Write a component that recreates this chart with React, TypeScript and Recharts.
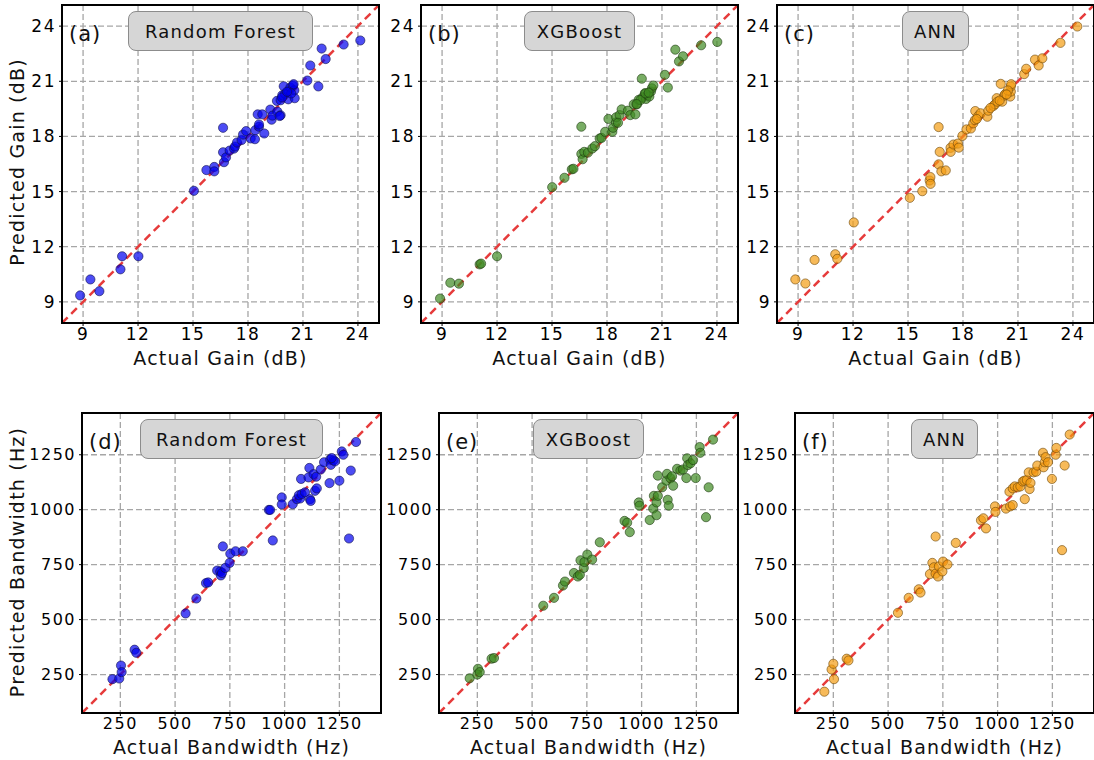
import React from "react";
import {
  ScatterChart,
  Scatter,
  XAxis,
  YAxis,
  CartesianGrid,
  ReferenceLine,
} from "recharts";

// tick values
const gainTicks = [9, 12, 15, 18, 21, 24];
const bwTicks = [250, 500, 750, 1000, 1250];
const gainDomain: [number, number] = [7.85, 25.15];
const bwDomain: [number, number] = [75, 1440];

// (a) Random Forest - gain
const rfGainActual = [
  8.84, 9.4, 9.89, 11.04, 11.13, 12.02, 15.05, 15.73, 16.16, 16.16, 16.64, 16.64,
  16.69, 16.8, 17.0, 17.24, 17.29, 17.4, 17.65, 17.73, 17.9, 18.15, 18.38, 18.4,
  18.6, 18.6, 18.53, 18.78, 18.89, 19.22, 19.29, 19.33, 19.6, 19.78, 19.58, 19.78,
  19.87, 20.02, 19.95, 20.2, 20.2, 20.31, 20.45, 20.53, 20.55, 20.49, 21.24, 21.4,
  21.84, 22.02, 22.24, 23.22, 24.13, 20.36, 19.86, 20.13, 19.73,
];
const rfGainPred = [
  9.35, 10.22, 9.58, 10.77, 11.48, 11.48, 15.04, 16.17, 16.34, 16.1, 18.47, 17.14,
  16.6, 16.86, 17.23, 17.34, 17.45, 17.67, 17.8, 18.1, 18.29, 17.89, 17.85, 18.34,
  18.53, 18.65, 19.2, 19.2, 18.16, 19.46, 18.91, 19.13, 19.35, 19.15, 19.93, 19.97,
  20.24, 20.31, 20.73, 20.02, 20.44, 20.66, 20.77, 20.51, 20.08, 20.84, 21.04, 21.86,
  20.72, 22.78, 22.21, 23.0, 23.22, 20.34, 20.12, 20.43, 19.11,
];

// (b) XGBoost - gain
const xgbGainActual = [
  8.89, 9.45, 9.92, 11.05, 11.13, 12.0, 15.01, 15.68, 16.08, 16.17, 16.6, 16.6,
  16.67, 16.76, 16.96, 17.2, 17.34, 17.6, 17.7, 17.9, 18.08, 18.29, 18.33, 18.49,
  18.5, 18.69, 18.8, 19.14, 19.27, 19.55, 19.46, 19.64, 19.73, 19.9, 19.95, 20.13,
  20.07, 20.22, 20.4, 20.45, 20.53, 20.31, 21.16, 21.32, 21.73, 21.93, 22.15, 23.14,
  24.02, 19.83, 20.1, 20.28, 19.61, 18.6,
];
const xgbGainPred = [
  9.18, 10.04, 9.99, 11.04, 11.08, 11.48, 15.24, 15.75, 16.21, 16.24, 18.53, 17.05,
  16.76, 17.16, 17.12, 17.34, 17.47, 17.89, 17.92, 18.25, 18.95, 18.25, 18.47, 18.76,
  19.04, 19.16, 19.47, 19.4, 19.16, 19.2, 19.75, 19.75, 19.99, 21.14, 20.13, 20.04,
  20.35, 20.26, 20.44, 20.62, 20.77, 20.17, 21.35, 20.66, 22.72, 22.08, 22.36, 22.96,
  23.14, 19.98, 20.34, 20.38, 19.76, 18.74,
];

// (c) ANN - gain
const annGainActual = [
  8.85, 9.4, 9.9, 11.03, 11.14, 12.04, 15.1, 15.78, 16.18, 16.22, 16.23, 16.67,
  16.67, 16.73, 16.82, 17.06, 17.32, 17.33, 17.48, 17.72, 17.77, 17.97, 18.19, 18.43,
  18.56, 18.65, 18.67, 18.83, 18.96, 19.33, 19.38, 19.66, 19.75, 19.84, 19.88, 20.06,
  20.14, 20.25, 20.3, 20.58, 20.61, 20.61, 20.63, 21.34, 21.45, 21.93, 22.13, 22.33,
  23.32, 24.24, 19.5, 20.0, 20.45, 18.75, 20.38,
];
const annGainPred = [
  10.22, 10.0, 11.28, 11.59, 11.34, 13.32, 14.66, 15.02, 15.6, 15.79, 15.42, 18.51,
  16.48, 17.16, 16.1, 16.15, 17.38, 17.16, 17.56, 17.61, 17.39, 18.03, 18.38, 18.43,
  18.71, 18.89, 19.38, 19.11, 19.26, 19.07, 19.4, 19.66, 19.75, 20.08, 19.89, 20.86,
  19.89, 20.22, 20.3, 20.17, 20.44, 20.72, 20.84, 21.39, 21.68, 22.18, 21.86, 22.25,
  23.09, 23.98, 19.55, 19.95, 20.5, 18.95, 20.28,
];

// (d) Random Forest - bandwidth
const rfBwActual = [
  214, 245, 253, 256, 315, 323, 548, 597, 641, 651, 718, 692, 706, 709, 714, 729,
  749, 752, 776, 809, 928, 934, 946, 987, 987, 1037, 1056, 1071, 1065, 1078, 1093,
  1075, 1116, 1119, 1109, 1113, 1139, 1147, 1132, 1144, 1165, 1180, 1205, 1208, 1211,
  1223, 1230, 1215, 1250, 1261, 1268, 1302, 1294, 1326,
];
const rfBwPred = [
  229, 232, 291, 261, 363, 349, 528, 596, 666, 669, 833, 723, 719, 701, 712, 735,
  758, 800, 811, 811, 999, 999, 860, 1056, 1024, 1025, 1048, 1051, 1066, 1071, 1079,
  1140, 1048, 1040, 1147, 1190, 1086, 1097, 1162, 1150, 1183, 1216, 1121, 1228, 1204,
  1225, 1220, 1235, 1132, 1265, 1250, 1178, 869, 1308,
];

// (e) XGBoost - bandwidth
const xgbBwActual = [
  215, 253, 250, 261, 315, 326, 551, 600, 641, 650, 691, 709, 718, 721, 736, 739,
  752, 774, 809, 922, 934, 946, 987, 990, 1037, 1053, 1056, 1068, 1068, 1074, 1074,
  1094, 1113, 1116, 1119, 1124, 1132, 1139, 1144, 1162, 1177, 1189, 1204, 1208, 1211,
  1223, 1235, 1247, 1265, 1268, 1306, 1294, 1326,
];
const xgbBwPred = [
  233, 276, 250, 261, 322, 325, 563, 599, 655, 673, 712, 696, 704, 770, 735, 762,
  796, 773, 852, 949, 941, 898, 1033, 1018, 953, 1005, 1063, 975, 1033, 1063, 1155,
  1102, 1132, 1163, 1045, 1018, 1143, 1152, 1109, 1186, 1178, 1183, 1144, 1234, 1203,
  1211, 1226, 1144, 1285, 1259, 1102, 966, 1319,
];

// (f) ANN - bandwidth
const annBwActual = [
  209, 242, 250, 253, 311, 319, 545, 594, 640, 648, 717, 809, 691, 702, 709, 717,
  728, 732, 748, 751, 771, 924, 935, 947, 988, 990, 1038, 1057, 1069, 1054, 1069,
  1078, 1092, 1104, 1124, 1115, 1122, 1133, 1142, 1146, 1150, 1164, 1176, 1181, 1207,
  1210, 1215, 1219, 1230, 1248, 1265, 1268, 1306, 1294, 1329,
];
const annBwPred = [
  172, 273, 299, 229, 322, 314, 531, 599, 638, 623, 878, 849, 707, 758, 738, 709,
  696, 742, 719, 764, 751, 952, 961, 915, 1015, 990, 1005, 1015, 1021, 1082, 1097,
  1106, 1102, 1106, 1048, 1128, 1132, 1135, 1170, 1094, 1122, 1170, 1173, 1201, 1259,
  1193, 1216, 1239, 1216, 1140, 1250, 1281, 1201, 816, 1342,
];

const FONT = "'DejaVu Sans', 'Noto Sans', sans-serif";

const blue = { fill: "#0000f0", stroke: "#10104a" };
const green = { fill: "#3f8a22", stroke: "#1c3a10" };
const orange = { fill: "#f39c12", stroke: "#6a4508" };

interface PanelProps {
  left: number;
  top: number;
  plotW: number;
  plotH: number;
  xs: number[];
  ys: number[];
  domain: [number, number];
  ticks: number[];
  color: { fill: string; stroke: string };
  model: string;
  boxW: number;
  tag: string;
  xLabel: string;
  tickFont: number;
  labelGap: number;
}

function Panel(p: PanelProps) {
  const data = p.xs.map((x, i) => ({ x, y: p.ys[i] }));
  const yw = 60;
  const xh = 30;
  const tickStyle = {
    fontSize: p.tickFont,
    fill: "#000",
    fontFamily: FONT,
    letterSpacing: 1.5,
  };
  const dot = (props: any) => (
    <circle
      cx={props.cx}
      cy={props.cy}
      r={4.6}
      fill={p.color.fill}
      fillOpacity={0.7}
      stroke={p.color.stroke}
      strokeOpacity={0.85}
      strokeWidth={0.7}
    />
  );
  return (
    <>
      <div style={{ position: "absolute", left: p.left - yw, top: p.top }}>
        <ScatterChart
          width={yw + p.plotW}
          height={p.plotH + xh}
          margin={{ top: 0, right: 0, bottom: 0, left: 0 }}
        >
          <CartesianGrid stroke="#a6a6a6" strokeDasharray="6 3" strokeWidth={1.3} />
          <XAxis
            type="number"
            dataKey="x"
            domain={p.domain}
            ticks={p.ticks}
            allowDataOverflow
            interval={0}
            height={xh}
            axisLine={false}
            tickSize={3}
            tickMargin={2}
            tickLine={{ stroke: "#000" }}
            tick={tickStyle}
          />
          <YAxis
            type="number"
            dataKey="y"
            domain={p.domain}
            ticks={p.ticks}
            allowDataOverflow
            interval={0}
            width={yw}
            axisLine={false}
            tickSize={3}
            tickMargin={3}
            tickLine={{ stroke: "#000" }}
            tick={tickStyle}
          />
          <ReferenceLine
            segment={[
              { x: p.domain[0], y: p.domain[0] },
              { x: p.domain[1], y: p.domain[1] },
            ]}
            stroke="#e63b3b"
            strokeWidth={2.5}
            strokeDasharray="8 5"
          />
          <Scatter data={data} isAnimationActive={false} shape={dot} />
        </ScatterChart>
      </div>
      <div
        style={{
          position: "absolute",
          left: p.left - 1.25,
          top: p.top - 1.25,
          width: p.plotW + 2.5,
          height: p.plotH + 2.5,
          border: "2.5px solid #000",
          boxSizing: "border-box",
          pointerEvents: "none",
        }}
      />
      <div
        style={{
          position: "absolute",
          left: p.left + 7,
          top: p.top + 16,
          fontSize: 21,
          fontFamily: FONT,
          letterSpacing: 1,
          lineHeight: "26px",
          color: "#111",
        }}
      >
        {p.tag}
      </div>
      <div
        style={{
          position: "absolute",
          left: p.left + p.plotW / 2 - p.boxW / 2,
          top: p.top + 6,
          width: p.boxW,
          height: 40,
          background: "#d6d6d6",
          border: "1px solid #8c8c8c",
          borderRadius: 8,
          boxSizing: "border-box",
          display: "flex",
          alignItems: "center",
          justifyContent: "center",
          fontSize: 18,
          fontFamily: FONT,
          letterSpacing: 1.2,
          color: "#111",
        }}
      >
        {p.model}
      </div>
      <div
        style={{
          position: "absolute",
          left: p.left,
          top: p.top + p.plotH + p.labelGap,
          width: p.plotW,
          height: 19,
          lineHeight: "19px",
          textAlign: "center",
          fontSize: 19,
          fontFamily: FONT,
          letterSpacing: 1.2,
          color: "#111",
        }}
      >
        {p.xLabel}
      </div>
    </>
  );
}

function YLabel({ text, cx, cy }: { text: string; cx: number; cy: number }) {
  const w = 320;
  return (
    <div
      style={{
        position: "absolute",
        left: cx - w / 2,
        top: cy - 12,
        width: w,
        height: 24,
        lineHeight: "24px",
        textAlign: "center",
        transform: "rotate(-90deg)",
        fontSize: 19,
        fontFamily: FONT,
        letterSpacing: 1.2,
        color: "#111",
      }}
    >
      {text}
    </div>
  );
}

export default function App() {
  const topY = 5;
  const topH = 318;
  const topW = 317;
  const botY = 413;
  const botH = 300;
  const botW = 299;
  return (
    <div
      style={{
        position: "absolute",
        left: 0,
        top: 0,
        width: 1094,
        height: 760,
        background: "#fff",
        overflow: "hidden",
      }}
    >
      <Panel left={62} top={topY} plotW={topW} plotH={topH} xs={rfGainActual} ys={rfGainPred}
        domain={gainDomain} ticks={gainTicks} color={blue} model="Random Forest" boxW={185}
        tag="(a)" xLabel="Actual Gain (dB)" tickFont={17} labelGap={26} />
      <Panel left={421} top={topY} plotW={topW} plotH={topH} xs={xgbGainActual} ys={xgbGainPred}
        domain={gainDomain} ticks={gainTicks} color={green} model="XGBoost" boxW={111}
        tag="(b)" xLabel="Actual Gain (dB)" tickFont={17} labelGap={26} />
      <Panel left={777} top={topY} plotW={topW} plotH={topH} xs={annGainActual} ys={annGainPred}
        domain={gainDomain} ticks={gainTicks} color={orange} model="ANN" boxW={67}
        tag="(c)" xLabel="Actual Gain (dB)" tickFont={17} labelGap={26} />
      <Panel left={82} top={botY} plotW={botW} plotH={botH} xs={rfBwActual} ys={rfBwPred}
        domain={bwDomain} ticks={bwTicks} color={blue} model="Random Forest" boxW={183}
        tag="(d)" xLabel="Actual Bandwidth (Hz)" tickFont={16} labelGap={25} />
      <Panel left={439} top={botY} plotW={botW} plotH={botH} xs={xgbBwActual} ys={xgbBwPred}
        domain={bwDomain} ticks={bwTicks} color={green} model="XGBoost" boxW={111}
        tag="(e)" xLabel="Actual Bandwidth (Hz)" tickFont={16} labelGap={25} />
      <Panel left={795} top={botY} plotW={botW} plotH={botH} xs={annBwActual} ys={annBwPred}
        domain={bwDomain} ticks={bwTicks} color={orange} model="ANN" boxW={67}
        tag="(f)" xLabel="Actual Bandwidth (Hz)" tickFont={16} labelGap={25} />
      <YLabel text="Predicted Gain (dB)" cx={17} cy={162} />
      <YLabel text="Predicted Bandwidth (Hz)" cx={17} cy={562} />
    </div>
  );
}
